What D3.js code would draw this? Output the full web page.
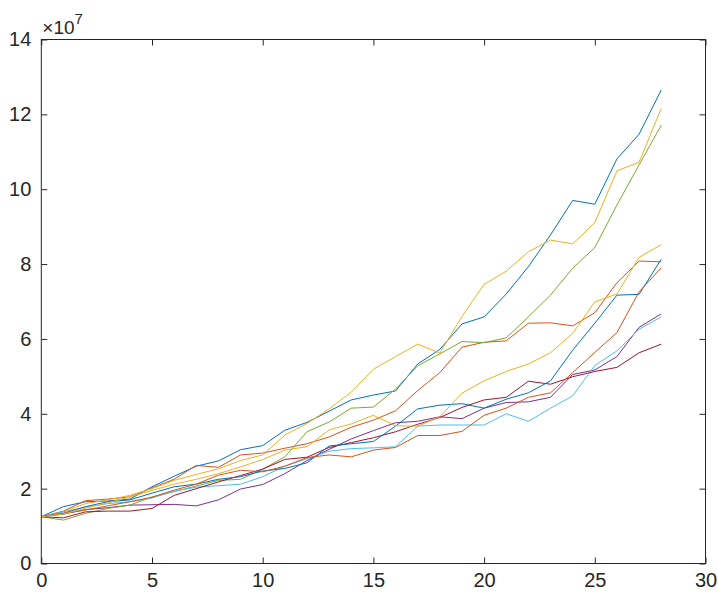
<!DOCTYPE html>
<html lang="en">
	<head>
		<meta charset="utf-8">
		<title>Growth curves</title>
		<script type="text/javascript" src="https://cdn.jsdelivr.net/npm/d3@7/dist/d3.min.js"></script>
		<style type="text/css">
			body { margin: 0; background: #fff; }
			.axis line { stroke: #262626; }
			.axis text {
				font-family: "Liberation Sans", Arial, sans-serif;
				font-size: 20px;
				fill: #262626;
			}
		</style>
	</head>
	<body>
	<script type="text/javascript">

			var w = 718;
			var h = 595;

			// x steps 0..28, values in units of 1e7
			var steps = d3.range(0, 29);
			var xTicks = [0, 5, 10, 15, 20, 25, 30];
			var yTicks = [0, 2, 4, 6, 8, 10, 12, 14];

			var blue1   = [1.25,1.52,1.65,1.67,1.72,2.05,2.33,2.60,2.74,3.04,3.15,3.56,3.77,4.07,4.37,4.50,4.61,5.33,5.72,6.40,6.59,7.20,7.93,8.78,9.70,9.60,10.81,11.47,12.65];
			var orange1 = [1.25,1.40,1.68,1.72,1.78,2.02,2.25,2.62,2.57,2.90,2.95,3.08,3.20,3.38,3.64,3.83,4.08,4.62,5.10,5.78,5.91,5.95,6.42,6.43,6.35,6.70,7.50,8.08,8.06];
			var yellow1 = [1.25,1.38,1.60,1.70,1.82,2.00,2.22,2.38,2.53,2.75,2.90,3.43,3.74,4.13,4.58,5.19,5.53,5.86,5.62,6.60,7.46,7.81,8.33,8.64,8.54,9.11,10.49,10.72,12.16];
			var purple  = [1.25,1.32,1.44,1.49,1.56,1.57,1.58,1.54,1.70,1.99,2.11,2.40,2.75,3.05,3.33,3.55,3.76,3.80,3.92,3.87,4.15,4.30,4.32,4.44,5.05,5.17,5.53,6.31,6.67];
			var green   = [1.25,1.16,1.34,1.47,1.56,1.78,1.92,2.07,2.22,2.25,2.52,2.85,3.52,3.78,4.15,4.18,4.66,5.28,5.60,5.93,5.90,6.03,6.59,7.17,7.89,8.44,9.58,10.65,11.71];
			var cyan    = [1.25,1.38,1.50,1.60,1.65,1.75,1.93,2.04,2.08,2.12,2.32,2.60,2.80,3.00,3.07,3.09,3.12,3.67,3.70,3.70,3.70,4.00,3.80,4.15,4.48,5.29,5.68,6.26,6.59];
			var darkred = [1.25,1.22,1.38,1.40,1.40,1.47,1.82,2.00,2.18,2.35,2.52,2.78,2.84,3.10,3.23,3.36,3.52,3.72,3.90,4.17,4.37,4.44,4.87,4.79,4.99,5.13,5.24,5.63,5.86];
			var blue2   = [1.25,1.34,1.52,1.65,1.70,1.88,2.05,2.12,2.25,2.32,2.47,2.54,2.69,3.14,3.20,3.26,3.67,4.13,4.23,4.27,4.15,4.39,4.56,4.88,5.70,6.42,7.17,7.19,8.13];
			var orange2 = [1.25,1.34,1.43,1.54,1.65,1.77,1.96,2.12,2.36,2.49,2.45,2.60,2.83,2.90,2.85,3.03,3.10,3.42,3.42,3.53,3.96,4.15,4.44,4.56,5.10,5.64,6.17,7.26,7.90];
			var yellow2 = [1.25,1.32,1.48,1.62,1.78,1.95,2.12,2.25,2.40,2.58,2.78,3.03,3.12,3.57,3.73,3.96,3.68,3.67,3.92,4.55,4.88,5.13,5.33,5.63,6.15,6.99,7.20,8.18,8.52];

			// MATLAB default colour order, cycling
			var colors = ["#0072BD","#D95319","#EDB120","#7E2F8E","#77AC30","#4DBEEE","#A2142F","#0072BD","#D95319","#EDB120"];
			var series = [blue1, orange1, yellow1, purple, green, cyan, darkred, blue2, orange2, yellow2];

			var padL = 41.3, padR = 705.5, padT = 39.5, padB = 563.5;

			var xScale = d3.scaleLinear().domain([0, 30]).range([padL, padR]);
			var yScale = d3.scaleLinear().domain([0, 14]).range([padB, padT]);

			var svg = d3.select("body")
						.append("svg")
						.attr("width", w)
						.attr("height", h);

			var line = d3.line()
						.x(function(d, i) { return xScale(steps[i]); })
						.y(function(d) { return yScale(d); });

			svg.selectAll("path.series")
			   .data(series)
			   .enter()
			   .append("path")
			   .attr("class", "series")
			   .attr("d", line)
			   .attr("fill", "none")
			   .attr("stroke", function(d, i) { return colors[i]; })
			   .attr("stroke-width", 1);

			// bottom and left axes, ticks pointing inside
			svg.append("g")
				.attr("class", "axis")
				.attr("transform", "translate(0," + padB + ")")
				.call(d3.axisBottom(xScale).tickValues(xTicks).tickSizeInner(-6).tickSizeOuter(0).tickPadding(9))
				.call(function(g) { g.select(".domain").remove(); });

			svg.append("g")
				.attr("class", "axis")
				.attr("transform", "translate(" + padL + ",0)")
				.call(d3.axisLeft(yScale).tickValues(yTicks).tickSizeInner(-6).tickSizeOuter(0).tickPadding(10))
				.call(function(g) { g.select(".domain").remove(); });

			// mirrored ticks on top and right
			svg.append("g")
				.attr("class", "axis")
				.attr("transform", "translate(0," + padT + ")")
				.call(d3.axisTop(xScale).tickValues(xTicks).tickSizeInner(-6).tickSizeOuter(0).tickFormat(""))
				.call(function(g) { g.select(".domain").remove(); });

			svg.append("g")
				.attr("class", "axis")
				.attr("transform", "translate(" + padR + ",0)")
				.call(d3.axisRight(yScale).tickValues(yTicks).tickSizeInner(-6).tickSizeOuter(0).tickFormat(""))
				.call(function(g) { g.select(".domain").remove(); });

			// box
			svg.append("rect")
				.attr("x", padL)
				.attr("y", padT)
				.attr("width", padR - padL)
				.attr("height", padB - padT)
				.attr("fill", "none")
				.attr("stroke", "#262626")
				.attr("stroke-width", 1);

			// exponent label
			var expo = svg.append("text")
				.attr("x", padL + 1)
				.attr("y", padT - 6)
				.attr("font-family", "'Liberation Sans', Arial, sans-serif")
				.attr("font-size", "19px")
				.attr("fill", "#262626");
			expo.append("tspan").text("\u00d710");
			expo.append("tspan")
				.attr("dy", -10)
				.attr("font-size", "15px")
				.text("7");

		</script>
	</body>
</html>
